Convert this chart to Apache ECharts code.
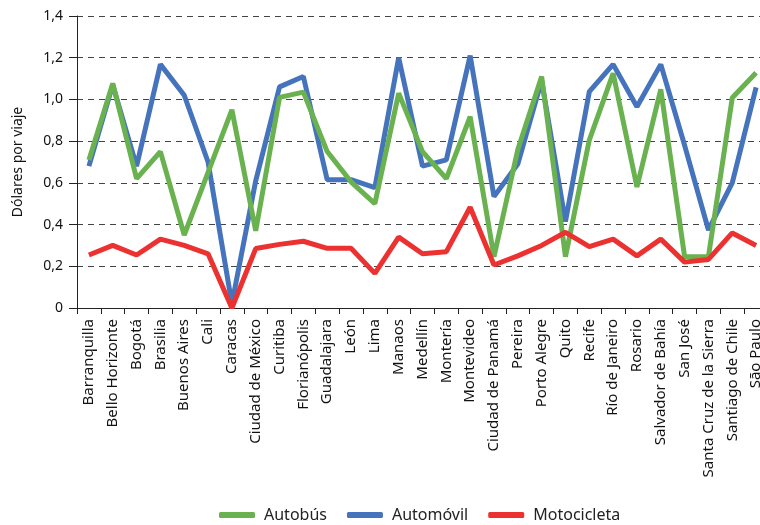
<!DOCTYPE html>
<html>
<head>
<meta charset="utf-8">
<script src="https://cdn.jsdelivr.net/npm/echarts@6/dist/echarts.min.js"></script>
<style>html,body{margin:0;padding:0;background:#fff}#chart{width:760px;height:525px}</style>
</head>
<body>
<div id="chart"></div>
<script>
// ciudades
let cities = ['Barranquilla','Bello Horizonte','Bogotá','Brasilia','Buenos Aires','Cali','Caracas','Ciudad de México','Curitiba','Florianópolis','Guadalajara','León','Lima','Manaos','Medellín','Montería','Montevideo','Ciudad de Panamá','Pereira','Porto Alegre','Quito','Recife','Río de Janeiro','Rosario','Salvador de Bahía','San José','Santa Cruz de la Sierra','Santiago de Chile','São Paulo']
let autobus     = [0.71,1.077,0.62,0.75,0.35,0.65,0.95,0.37,1.01,1.035,0.75,0.605,0.50,1.03,0.75,0.62,0.917,0.246,0.76,1.11,0.246,0.805,1.125,0.58,1.048,0.246,0.246,1.008,1.128]
let automovil   = [0.68,1.07,0.68,1.168,1.02,0.70,0.02,0.61,1.06,1.11,0.615,0.615,0.577,1.20,0.68,0.71,1.21,0.534,0.69,1.09,0.414,1.037,1.168,0.965,1.168,0.78,0.374,0.60,1.058]
let motocicleta = [0.254,0.30,0.254,0.33,0.30,0.26,0.0,0.285,0.305,0.32,0.286,0.286,0.166,0.34,0.26,0.27,0.483,0.206,0.25,0.30,0.363,0.294,0.33,0.25,0.33,0.22,0.233,0.36,0.30]
let seriesNames = ['Autobús','Automóvil','Motocicleta']

let font = '"Noto Sans", "Open Sans", sans-serif'
let myChart = echarts.init(document.getElementById('chart'))
let option = {
  color: ['#6ab150','#4574bd','#ec3131'],
  textStyle: {fontFamily: font},
  animation: false,
  grid: {left: 77, right: -8, top: 16, bottom: 217, outerBoundsMode: 'none', containLabel: false},
  legend: {data: seriesNames, top: 502, left: 214, itemWidth: 36, itemHeight: 6, itemGap: 20,
    icon: 'roundRect', textStyle: {fontSize: 16, color: '#222', fontFamily: font, padding: [0,0,0,4]}},
  xAxis: {type: 'category', data: cities, boundaryGap: true,
    axisLine: {lineStyle: {color: '#222', width: 1}},
    axisTick: {show: true, length: 6, lineStyle: {color: '#222'}},
    axisLabel: {interval: 0, rotate: 90, fontSize: 15, color: '#111', margin: 11, fontFamily: font}},
  yAxis: {type: 'value', min: 0, max: 1.4, interval: 0.2,
    name: 'Dólares por viaje', nameLocation: 'middle', nameGap: 52, nameTextStyle: {fontSize: 14, color: '#111', fontFamily: font},
    axisLine: {show: true, lineStyle: {color: '#222'}},
    axisTick: {show: true, length: 8, lineStyle: {color: '#222'}},
    axisLabel: {fontSize: 14, color: '#111', margin: 14, fontFamily: font,
      formatter: function(v){ return v === 0 ? '0' : v.toFixed(1).replace('.', ',') }},
    splitLine: {show: true, lineStyle: {type: [6,5], color: '#444', width: 1}}},
  series: []
}
;[autobus, automovil, motocicleta].map((v,i) => {
  option.series.push({name: seriesNames[i], type: 'line', data: v, symbol: 'none', lineStyle: {width: 5}})
})
// verde encima del azul, rojo arriba
option.series[0].z = 3
option.series[1].z = 2
option.series[2].z = 4
myChart.setOption(option)
</script>
</body>
</html>
